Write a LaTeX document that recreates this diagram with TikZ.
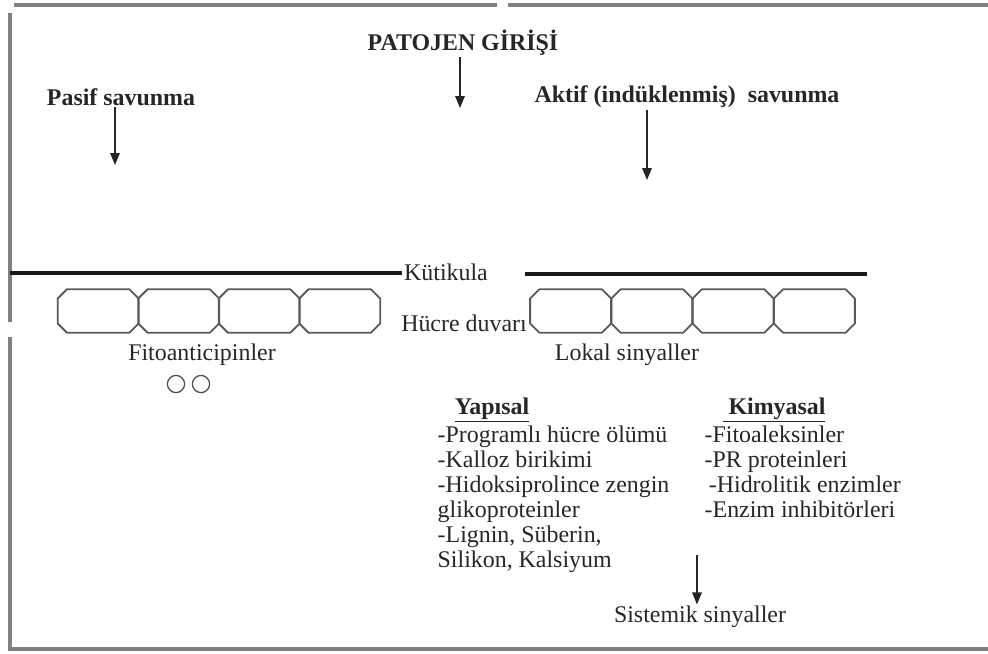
\documentclass[tikz,border=0pt]{standalone}
\usepackage{fontspec}
\setmainfont{Liberation Serif}
\usetikzlibrary{arrows.meta}

\tikzset{
  txt/.style={font=\fontsize{17}{17.8}\selectfont, text=black!85, inner sep=1pt},
  bold/.style={txt, font=\fontsize{17}{17.8}\selectfont\bfseries},
  cell/.style={rectangle, minimum width=2.01cm, minimum height=1.07cm, inner sep=0pt},
  wall/.style={draw=black!65, line width=1.3pt, line join=round},
  arrow/.style={-{Triangle[width=2.4mm,length=3mm]}, line width=0.9pt, black!85},
  frame/.style={line width=2.4pt, black!50},
  layer/.style={line width=2.6pt, black!90}
}

\begin{document}
\begin{tikzpicture}[x=0.025cm, y=-0.025cm]
  \useasboundingbox (0,0) rectangle (988,653);
  \draw[frame] (14,5) -- (497,5) (508,5) -- (988,5)
               (10,13) -- (10,322) (10,337) -- (10,649) -- (988,649);
  \path node (patojen)  at (463,43)  [bold] {PATOJEN GİRİŞİ}
        node (pasif)    at (121,97)  [bold] {Pasif savunma}
        node (aktif)    at (687,97)  [bold] {Aktif (indüklenmiş)\ \ savunma}
        node (kutikula) at (446,272) [txt] {Kütikula}
        node (duvar)    at (464,323) [txt] {Hücre duvarı}
        node (fito)     at (202,355) [txt] {Fitoanticipinler}
        node (lokal)    at (627,355) [txt] {Lokal sinyaller}
        node (fitoA)    at (176,384) [circle, draw=black!70, line width=0.9pt, minimum size=0.43cm, inner sep=0pt] {}
        node (fitoB)    at (201,384) [circle, draw=black!70, line width=0.9pt, minimum size=0.43cm, inner sep=0pt] {}
        node (yapisal)  at (492,410) [bold] {\underline{Yapısal}}
        node (kimyasal) at (774,410) [bold] {\underline{\ Kimyasal}}
        node (yapList)  at (436,424) [txt, anchor=north west, align=left]
             {-Programlı hücre ölümü\\-Kalloz birikimi\\-Hidoksiprolince zengin\\glikoproteinler\\-Lignin, Süberin,\\Silikon, Kalsiyum}
        node (kimList)  at (703,424) [txt, anchor=north west, align=left]
             {-Fitoaleksinler\\-PR proteinleri\\\hspace{3pt}-Hidrolitik enzimler\\-Enzim inhibitörleri}
        node (sistemik) at (700,617) [txt] {Sistemik sinyaller};
  \path node (c1) at (98.2,311)  [cell] {}
        node (c2) at (178.7,311) [cell] {}
        node (c3) at (259.2,311) [cell] {}
        node (c4) at (339.7,311) [cell] {}
        node (c5) at (570.6,311) [cell] {}
        node (c6) at (651.9,311) [cell] {}
        node (c7) at (733.1,311) [cell] {}
        node (c8) at (814.4,311) [cell] {};
  \foreach \cel in {c1,c2,c3,c4,c5,c6,c7,c8}
    \draw[wall] ([xshift=2.3mm]\cel.north west) -- ([xshift=-2.3mm]\cel.north east)
      -- ([yshift=-2.3mm]\cel.north east) -- ([yshift=2.3mm]\cel.south east)
      -- ([xshift=-2.3mm]\cel.south east) -- ([xshift=2.3mm]\cel.south west)
      -- ([yshift=2.3mm]\cel.south west) -- ([yshift=-2.3mm]\cel.north west) -- cycle;
  \coordinate (pasifEnd) at (115,165);
  \coordinate (girisEnd) at (460,108);
  \coordinate (aktifEnd) at (647,180);
  \coordinate (sisStart) at (697,555);
  \coordinate (kutL) at (10,273);
  \coordinate (kutR) at (867,274);
  \coordinate (kutRs) at (525,274);
  \draw[layer] (kutL) -- (kutikula.west |- kutL) (kutRs) -- (kutR);
  \draw[arrow] (patojen.south -| girisEnd) -- (girisEnd);
  \draw[arrow] (pasif.south -| pasifEnd) -- (pasifEnd);
  \draw[arrow] (aktif.south -| aktifEnd) -- (aktifEnd);
  \draw[arrow] (sisStart) -- (sistemik.north -| sisStart);
\end{tikzpicture}
\end{document}
